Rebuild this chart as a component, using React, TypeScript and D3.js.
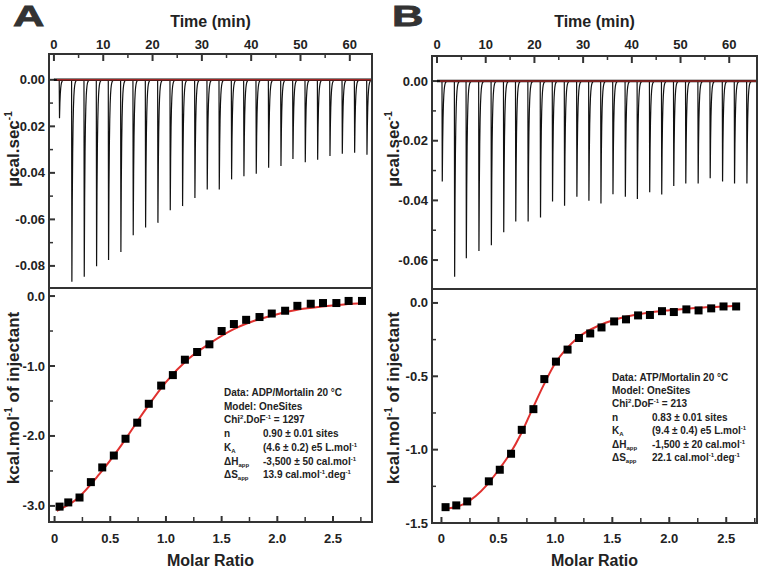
import React from "react";
import * as d3 from "d3";

// ---------- shared ticks ----------
const timeMajor = [0, 10, 20, 30, 40, 50, 60];
const timeMinor = [5, 15, 25, 35, 45, 55];
const ratioMajor = [0, 0.5, 1, 1.5, 2, 2.5];
const ratioMinor = [0.25, 0.75, 1.25, 1.75, 2.25, 2.75];
const ratioLabels = ["0", "0.5", "1.0", "1.5", "2.0", "2.5"];

// ---------- Panel A (ADP) ----------
const injTimeA = [1.07, 3.58, 6.09, 8.59, 11.02, 13.52, 16.02, 18.53, 21.03, 23.53, 26.03, 28.53, 31.03, 33.47, 35.97, 38.47, 40.97, 43.48, 45.98, 48.41, 50.91, 53.42, 55.92, 58.42, 60.92, 63.42];
const peakA = [-0.0165, -0.0868, -0.0847, -0.0801, -0.0775, -0.074, -0.0668, -0.0635, -0.0615, -0.0561, -0.0543, -0.0508, -0.0472, -0.0472, -0.0428, -0.0415, -0.0404, -0.0378, -0.0371, -0.034, -0.0354, -0.0344, -0.0328, -0.0318, -0.0314, -0.0322];
const ratioA = [0.045, 0.123, 0.224, 0.326, 0.428, 0.532, 0.637, 0.742, 0.846, 0.957, 1.062, 1.17, 1.28, 1.39, 1.5, 1.61, 1.72, 1.84, 1.95, 2.07, 2.18, 2.3, 2.41, 2.53, 2.64, 2.76];
const heatA = [-3.01, -2.95, -2.88, -2.66, -2.45, -2.28, -2.04, -1.81, -1.54, -1.28, -1.13, -0.91, -0.8, -0.69, -0.5, -0.4, -0.34, -0.3, -0.25, -0.21, -0.14, -0.11, -0.1, -0.1, -0.07, -0.07];
const fitRatioA = [0.02, 0.2, 0.4, 0.6, 0.8, 1.0, 1.2, 1.4, 1.6, 1.8, 2.0, 2.2, 2.4, 2.6, 2.78];
const fitHeatA = [-3.07, -2.9, -2.55, -2.13, -1.66, -1.23, -0.9, -0.67, -0.48, -0.35, -0.26, -0.19, -0.15, -0.12, -0.1];
const powerMajorA = [0, -0.02, -0.04, -0.06, -0.08];
const powerMinorA = [-0.01, -0.03, -0.05, -0.07];
const powerLabelsA = ["0.00", "-0.02", "-0.04", "-0.06", "-0.08"];
const heatMajorA = [0, -1, -2, -3];
const heatMinorA = [-0.5, -1.5, -2.5];
const heatLabelsA = ["0.0", "-1.0", "-2.0", "-3.0"];
const legendA = {
  data: "Data: ADP/Mortalin 20 °C",
  chi: "1297",
  n: "0.90 ± 0.01 sites",
  ka: "(4.6 ± 0.2) e5 L.mol",
  dh: "-3,500 ± 50 cal.mol",
  ds: "13.9 cal.mol",
};

// ---------- Panel B (ATP) ----------
const injTimeB = [1.02, 3.56, 5.96, 8.55, 11.1, 13.64, 16.11, 18.65, 21.19, 23.66, 26.13, 28.66, 31.13, 33.6, 36.07, 38.61, 41.08, 43.61, 46.08, 48.55, 51.02, 53.56, 56.03, 58.57, 61.03, 63.57];
const peakB = [-0.0337, -0.0656, -0.0594, -0.057, -0.055, -0.0507, -0.0471, -0.0471, -0.0457, -0.0404, -0.0418, -0.0388, -0.0401, -0.041, -0.0379, -0.0388, -0.0395, -0.0373, -0.038, -0.0352, -0.0343, -0.0343, -0.0326, -0.0337, -0.0343, -0.0343];
const ratioB = [0.036, 0.13, 0.226, 0.416, 0.512, 0.611, 0.705, 0.807, 0.903, 1.005, 1.107, 1.207, 1.306, 1.405, 1.516, 1.62, 1.726, 1.83, 1.936, 2.04, 2.15, 2.257, 2.368, 2.476, 2.587];
const heatB = [-1.392, -1.38, -1.353, -1.216, -1.137, -1.028, -0.865, -0.724, -0.519, -0.4, -0.318, -0.239, -0.208, -0.167, -0.126, -0.112, -0.085, -0.082, -0.056, -0.062, -0.044, -0.051, -0.037, -0.024, -0.024];
const fitRatioB = [0.03, 0.2, 0.4, 0.5, 0.6, 0.7, 0.8, 0.9, 1.0, 1.1, 1.2, 1.4, 1.6, 1.8, 2.0, 2.2, 2.4, 2.6];
const fitHeatB = [-1.405, -1.37, -1.24, -1.14, -1.03, -0.89, -0.72, -0.555, -0.41, -0.31, -0.235, -0.148, -0.097, -0.068, -0.05, -0.036, -0.027, -0.02];
const powerMajorB = [0, -0.02, -0.04, -0.06];
const powerMinorB = [-0.01, -0.03, -0.05];
const powerLabelsB = ["0.00", "-0.02", "-0.04", "-0.06"];
const heatMajorB = [0, -0.5, -1, -1.5];
const heatMinorB = [-0.25, -0.75, -1.25];
const heatLabelsB = ["0.0", "-0.5", "-1.0", "-1.5"];
const legendB = {
  data: "Data: ATP/Mortalin 20 °C",
  chi: "213",
  n: "0.83 ± 0.01 sites",
  ka: "(9.4 ± 0.4) e5 L.mol",
  dh: "-1,500 ± 20 cal.mol",
  ds: "22.1 cal.mol",
};

const FONT = "'Liberation Sans', Arial, sans-serif";
const TXT = "#222";
const AX = "#333";
const RED = "#e0312f";

type PanelProps = {
  letter: string;
  letterX: number;
  left: number; right: number; top: number; mid: number; bottom: number;
  timeDomain: [number, number];
  powerDomain: [number, number];
  ratioDomain: [number, number];
  heatDomain: [number, number];
  injTime: number[]; peak: number[];
  ratio: number[]; heat: number[];
  fitRatio: number[]; fitHeat: number[];
  powerMajor: number[]; powerMinor: number[]; powerLabels: string[];
  heatMajor: number[]; heatMinor: number[]; heatLabels: string[];
  legend: { data: string; chi: string; n: string; ka: string; dh: string; ds: string };
  legX: number; legValX: number; legY: number; legStep: number;
  yLabelX: number;
};

function Panel(p: PanelProps) {
  const xT = d3.scaleLinear().domain(p.timeDomain).range([p.left, p.right]);
  const yP = d3.scaleLinear().domain(p.powerDomain).range([p.mid, p.top]);
  const xR = d3.scaleLinear().domain(p.ratioDomain).range([p.left, p.right]);
  const yH = d3.scaleLinear().domain(p.heatDomain).range([p.bottom, p.mid]);

  // raw thermogram: each injection drawn as a sharp deflection with fast exponential return
  const pts: [number, number][] = [[0, 0]];
  const tau = 0.16;
  p.injTime.forEach((t, i) => {
    pts.push([t, 0]);
    pts.push([t + 0.06, p.peak[i]]);
    for (let k = 1; k <= 14; k++) {
      const dt = k * 0.08;
      pts.push([t + 0.06 + dt, p.peak[i] * Math.exp(-dt / tau)]);
    }
  });
  pts.push([p.timeDomain[1], 0]);
  const trace = d3.line<[number, number]>().x((d) => xT(d[0])).y((d) => yP(d[1]))(pts) || "";

  const fit = d3
    .line<number>()
    .x((_, i) => xR(p.fitRatio[i]))
    .y((d) => yH(d))
    .curve(d3.curveMonotoneX)(p.fitHeat) || "";

  const w = p.right - p.left;
  const cx = p.left + w / 2;
  const tickLab = { fontFamily: FONT, fontWeight: 700, fontSize: 13, fill: TXT } as const;
  const legFont = { fontFamily: FONT, fontWeight: 700, fontSize: 10, fill: TXT } as const;
  const sub = { fontSize: 6 };
  const ly = (k: number) => p.legY + k * p.legStep;

  return (
    <g>
      <text
        transform={`translate(${p.letterX},26) scale(1.45,1)`}
        style={{ fontFamily: FONT, fontWeight: 700, fontSize: 30, fill: "#333", stroke: "#333", strokeWidth: 0.8 }}
      >
        {p.letter}
      </text>
      <text x={cx} y={27} textAnchor="middle" style={{ fontFamily: FONT, fontWeight: 700, fontSize: 16, fill: TXT }}>
        Time (min)
      </text>
      {/* top axis ticks & labels */}
      {timeMajor.map((t) => (
        <g key={"tm" + t}>
          <line x1={xT(t)} x2={xT(t)} y1={p.top} y2={p.top + 7} stroke={AX} strokeWidth={2} />
          <text x={xT(t)} y={49} textAnchor="middle" style={tickLab}>{t}</text>
        </g>
      ))}
      {timeMinor.map((t) => (
        <line key={"tn" + t} x1={xT(t)} x2={xT(t)} y1={p.top} y2={p.top + 4} stroke={AX} strokeWidth={1.5} />
      ))}
      {/* power y ticks */}
      {p.powerMajor.map((v, i) => (
        <g key={"pm" + v}>
          <line x1={p.left} x2={p.left + 6} y1={yP(v)} y2={yP(v)} stroke={AX} strokeWidth={2} />
          <text x={p.left - 4} y={yP(v) + 4.5} textAnchor="end" style={tickLab}>{p.powerLabels[i]}</text>
        </g>
      ))}
      {p.powerMinor.map((v) => (
        <line key={"pn" + v} x1={p.left} x2={p.left + 4} y1={yP(v)} y2={yP(v)} stroke={AX} strokeWidth={1.5} />
      ))}
      {/* heat y ticks */}
      {p.heatMajor.map((v, i) => (
        <g key={"hm" + v}>
          <line x1={p.left} x2={p.left + 6} y1={yH(v)} y2={yH(v)} stroke={AX} strokeWidth={2} />
          <text x={p.left - 4} y={yH(v) + 4.5} textAnchor="end" style={tickLab}>{p.heatLabels[i]}</text>
        </g>
      ))}
      {p.heatMinor.map((v) => (
        <line key={"hn" + v} x1={p.left} x2={p.left + 4} y1={yH(v)} y2={yH(v)} stroke={AX} strokeWidth={1.5} />
      ))}
      {/* ratio x ticks */}
      {ratioMajor.map((v, i) => (
        <g key={"rm" + v}>
          <line x1={xR(v)} x2={xR(v)} y1={p.bottom} y2={p.bottom - 6} stroke={AX} strokeWidth={2} />
          <text x={xR(v)} y={542.5} textAnchor="middle" style={tickLab}>{ratioLabels[i]}</text>
        </g>
      ))}
      {ratioMinor.map((v) => (
        <line key={"rn" + v} x1={xR(v)} x2={xR(v)} y1={p.bottom} y2={p.bottom - 5} stroke={AX} strokeWidth={1.5} />
      ))}
      <text x={cx} y={566} textAnchor="middle" style={{ fontFamily: FONT, fontWeight: 700, fontSize: 16, fill: TXT }}>
        Molar Ratio
      </text>
      {/* y labels */}
      <text transform={`translate(${p.yLabelX},149) rotate(-90)`} textAnchor="middle" style={{ fontFamily: FONT, fontWeight: 700, fontSize: 17, fill: TXT }}>
        µcal.sec<tspan fontSize={10} dy={-7}>-1</tspan>
      </text>
      <text transform={`translate(${p.yLabelX},398) rotate(-90)`} textAnchor="middle" style={{ fontFamily: FONT, fontWeight: 700, fontSize: 17, fill: TXT }}>
        kcal.mol<tspan fontSize={10} dy={-7}>-1</tspan><tspan dy={7}> of injectant</tspan>
      </text>

      {/* thermogram */}
      <clipPath id={"clip" + p.letter}>
        <rect x={p.left} y={p.top} width={w} height={p.mid - p.top} />
      </clipPath>
      <g clipPath={`url(#clip${p.letter})`}>
        <line x1={xT(0)} x2={p.right} y1={yP(0)} y2={yP(0)} stroke="#111" strokeWidth={2.5} />
        <path d={trace} fill="none" stroke="#111" strokeWidth={1.2} />
        <line x1={xT(0.6)} x2={p.right} y1={yP(0)} y2={yP(0)} stroke={RED} strokeWidth={1} />
      </g>

      {/* binding isotherm */}
      <path d={fit} fill="none" stroke={RED} strokeWidth={2} />
      {p.ratio.map((r, i) => (
        <rect key={"pt" + i} x={xR(r) - 4} y={yH(p.heat[i]) - 4} width={8} height={8} fill="#000" />
      ))}

      {/* legend */}
      <g style={legFont}>
        <text x={p.legX} y={ly(0)}>{p.legend.data}</text>
        <text x={p.legX} y={ly(1)}>Model: OneSites</text>
        <text x={p.legX} y={ly(2)}>
          Chi<tspan style={sub} dy={-4}>2</tspan><tspan dy={4}>.DoF</tspan><tspan style={sub} dy={-4}>-1</tspan><tspan dy={4}> = {p.legend.chi}</tspan>
        </text>
        <text x={p.legX} y={ly(3)}>n</text>
        <text x={p.legValX} y={ly(3)}>{p.legend.n}</text>
        <text x={p.legX} y={ly(4)}>
          K<tspan style={sub} dy={2}>A</tspan>
        </text>
        <text x={p.legValX} y={ly(4)}>
          {p.legend.ka}<tspan style={sub} dy={-4}>-1</tspan>
        </text>
        <text x={p.legX} y={ly(5)}>
          ΔH<tspan style={sub} dy={2}>app</tspan>
        </text>
        <text x={p.legValX} y={ly(5)}>
          {p.legend.dh}<tspan style={sub} dy={-4}>-1</tspan>
        </text>
        <text x={p.legX} y={ly(6)}>
          ΔS<tspan style={sub} dy={2}>app</tspan>
        </text>
        <text x={p.legValX} y={ly(6)}>
          {p.legend.ds}<tspan style={sub} dy={-4}>-1</tspan><tspan dy={4}>.deg</tspan><tspan style={sub} dy={-4}>-1</tspan>
        </text>
      </g>

      {/* frame */}
      <rect x={p.left} y={p.top} width={w} height={p.bottom - p.top} fill="none" stroke={AX} strokeWidth={2} />
      <line x1={p.left} x2={p.right} y1={p.mid} y2={p.mid} stroke={AX} strokeWidth={2} />
    </g>
  );
}

export default function App() {
  return (
    <svg width={760} height={568} style={{ position: "absolute", left: 0, top: 0, background: "#fff" }}>
      <rect x={0} y={0} width={760} height={568} fill="#fff" />
      <Panel
        letter="A"
        letterX={13}
        left={49} right={372} top={54} mid={288} bottom={522}
        timeDomain={[-1, 64.5]}
        powerDomain={[-0.0895, 0.0111]}
        ratioDomain={[-0.05, 2.85]}
        heatDomain={[-3.23, 0.115]}
        injTime={injTimeA} peak={peakA}
        ratio={ratioA} heat={heatA}
        fitRatio={fitRatioA} fitHeat={fitHeatA}
        powerMajor={powerMajorA} powerMinor={powerMinorA} powerLabels={powerLabelsA}
        heatMajor={heatMajorA} heatMinor={heatMinorA} heatLabels={heatLabelsA}
        legend={legendA}
        legX={224} legValX={263} legY={396} legStep={13.7}
        yLabelX={19}
      />
      <Panel
        letter="B"
        letterX={392}
        left={432} right={757} top={56} mid={289} bottom={523}
        timeDomain={[-1.03, 65.7]}
        powerDomain={[-0.0697, 0.0084]}
        ratioDomain={[-0.083, 2.77]}
        heatDomain={[-1.5, 0.095]}
        injTime={injTimeB} peak={peakB}
        ratio={ratioB} heat={heatB}
        fitRatio={fitRatioB} fitHeat={fitHeatB}
        powerMajor={powerMajorB} powerMinor={powerMinorB} powerLabels={powerLabelsB}
        heatMajor={heatMajorB} heatMinor={heatMinorB} heatLabels={heatLabelsB}
        legend={legendB}
        legX={612} legValX={652} legY={380.5} legStep={13.4}
        yLabelX={399}
      />
    </svg>
  );
}
